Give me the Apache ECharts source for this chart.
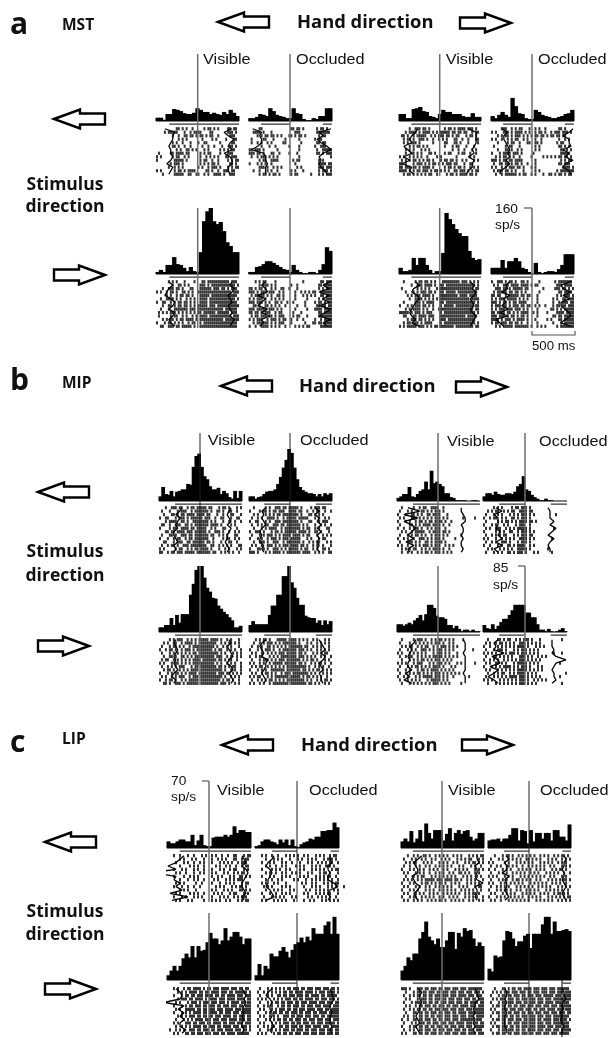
<!DOCTYPE html>
<html><head><meta charset="utf-8">
<style>html,body{margin:0;padding:0;background:#fff}#c{width:612px;height:1038px}</style>
<script src="https://cdn.jsdelivr.net/npm/echarts@6/dist/echarts.min.js"></script></head>
<body><div id="c"></div>
<script>
// ---- firing rates, sp/s per bin ----
const hist_a1=[8,8,3,17,17,29,27,24,19,17,17,20,31,27,22,22,17,20,17,15,22,17,27,20,12];
const hist_a2=[7,7,10,17,15,12,31,24,15,12,10,7,7,31,19,17,5,2,2,7,5,12,12,31,31];
const hist_a3=[17,17,7,7,29,31,34,24,22,12,10,7,17,27,22,22,17,17,17,12,10,10,19,10,10];
const hist_a4=[12,7,15,22,15,10,56,36,19,17,7,5,5,27,22,15,12,10,7,7,10,12,17,19,27];
const hist_a5=[5,10,5,22,22,41,24,22,15,7,17,7,5,53,128,152,160,128,121,126,104,77,68,53,53];
const hist_a6=[5,5,17,19,24,31,31,27,22,17,12,10,5,22,10,5,2,2,5,5,2,10,24,65,56];
const hist_a7=[15,7,7,10,39,22,39,39,22,10,2,7,7,51,148,133,121,109,99,92,92,56,39,34,36];
const hist_a8=[15,15,15,34,15,31,31,39,31,15,12,5,0,27,5,2,5,7,7,5,12,22,48,48,48];
const hist_b1=[6,18,9,8,13,6,12,13,15,15,22,21,44,58,61,44,32,28,19,15,15,17,9,13,10,5,3,13,4,13];
const hist_b2=[6,6,3,5,6,9,12,13,13,15,22,31,43,53,67,62,43,28,18,14,12,10,10,9,6,9,6,10,8,10];
const hist_b3=[4,6,9,9,18,6,5,9,13,15,25,15,39,23,25,22,19,10,10,5,4,1,1,1,1,0,0,1,1,0];
const hist_b4=[6,10,10,8,12,9,8,8,10,10,9,12,19,22,32,15,13,8,5,3,1,1,3,1,1,0,0,0,0,0];
const hist_b5=[6,6,9,9,18,9,22,12,23,23,23,48,62,80,85,85,70,57,52,44,43,34,30,26,23,19,15,6,6,8];
const hist_b6=[9,14,10,10,10,10,10,22,34,34,48,48,72,72,85,64,57,44,35,35,21,19,18,18,12,15,9,15,10,14];
const hist_b7=[10,10,8,10,12,10,15,18,22,15,23,35,35,31,21,19,19,17,9,9,5,8,4,1,3,3,1,3,1,1];
const hist_b8=[9,5,4,10,4,8,13,17,17,22,28,35,35,35,35,25,25,19,19,10,3,3,1,4,1,0,1,3,5,1];
const hist_c1=[7,5,5,7,9,9,7,7,14,3,8,14,3,2,2,11,12,12,12,14,12,14,23,16,19,19,17,17];
const hist_c2=[2,3,7,9,9,7,6,4,9,6,9,3,9,2,1,4,6,7,10,9,12,12,18,18,19,19,27,22];
const hist_c3=[7,10,7,18,6,10,19,7,26,16,10,19,19,19,8,15,21,8,16,19,15,18,19,12,8,10,16,16];
const hist_c4=[8,9,9,10,7,10,10,14,21,21,8,19,18,5,19,7,16,16,10,16,16,8,19,19,12,12,8,25];
const hist_c5=[5,10,15,10,15,23,28,24,36,24,36,31,32,40,50,44,44,38,42,55,42,46,51,51,46,38,44,44];
const hist_c6=[5,17,5,15,12,28,25,25,31,35,30,24,32,38,40,45,40,46,42,55,49,49,49,58,62,49,67,49];
const hist_c7=[10,15,24,21,28,28,44,51,62,46,42,38,44,35,35,42,51,51,33,50,46,55,52,53,44,36,40,36];
const hist_c8=[12,9,26,24,25,42,52,51,44,36,41,41,47,49,34,49,49,49,59,67,67,49,62,52,52,53,54,52];

// ---- spike rasters: one string per trial, # = spike in that time column ----
const raster_a1=["..........##.#.#..#.....#.##.#.#....##.##.","....#.#####...#..#.####....##.......###.#.","........#..#..##.##.#.##.#.##..#.....###..","...........#.#.#.......#....#.#....#...##.","........#.#..#...#...#..##......#.....##..","........##.#..#..#.....#..#..#...#...##.#.","..........#.#..##.#.#...#.#.....#.#.#.##..",".#.....##.####.##.....#.#.##....#...###...","#.#.....#.##..#.#.....#..#.#.#.#...##.###.","#........#####.#......#.##..#..#....#.#.##",".......#.###.#........#.#.#.##.#.....##.#.","......#..#.#.#.......#.#..#.###.#...#.#.##","#.#......#.##.#.####.....##.#..#..###.##..","...#.....#####..##..##..#.#..####.#..###.."];
const raster_a2=[".....##..............##.##.#......#.##.#..","..####.#...#...........###........#######.","....#.#.##.##.#.#...##.#.##.#......#.##...",".#.....##...#.....#......#.......#.##.....",".#..#.#..#.#.....##.......#.......##.##...","......#...#..#......#....#.......#..###...","##.###.#......#..........#........#..#####","###.##.#...##..#....#...#.........##.#.###",".#..#.###.#.#.#..........#...............#",".....#.##..####.......#.##.........#.#....","#...#.#.#..#...........#...........####.##",".....###.#..#.#.#.......#.#........###.###","..#..#...#.#..#......#.#...#.......#.###.#",".....#.##.#.##.#.....#.##......#...#.#.###"];
const raster_a3=[".....#..###.##.#.......#.##.#.####.###.#..","...#.####.#.####.#.#.#####.##.##.##..#.##.",".##.#..#.#####..#.#.###.##.#.##...#.##.#..","..#.##.#..###.#..#..#.#.#...##..#..#...##.","..#.#.###.#......#.....##...##.#...#....#.",".....#.#.##.#.#........#...#.##...#...#...","...#.#.#...#.#.#...........#..#..#...#.#..","...#..##.#.#...##.#....#.##...#.##..#..#..","#.#..#.#.#.#..#....#.#.......#......#.#...",".#.#.#.##.#.#.##.#...#.##.##.#..#.#...#.#.","##.#...#.###.#.#.##.#.#.###.##...#..##....","##.###.##.#.####.#.....#.##.#.##.#..#.#.#.","####.#.#.##.###.#.##.#.#.#..##.###.#.#.##.","..#.##.#.#.#.#.##..#....#.##.#.####.##.#.."];
const raster_a4=[".....###..#.#.##...#..#.#..#......##.#....","#.#...###.#.####.#.#..#.##.#..#.###.###.#.","...#.#.##.#.###.#.#.#.##.##.#.##.##.##....","#.#..#..#.#.##..#.#...#..#........#..#.#..","...#....#.##..#...##..##.#.......#.##.....",".#.....#.##...#.......#.#.........##.#.#..","...#...##.#..#.#......#.#..........##.#.#.","#...#.####.###.#.....#.............#####..","..#.#.##.#.#..#.....#.....#.#.#.#.##.##.#.","###.#.##.##.####......#............#.#.##.",".#..##.##.#.##.#..#...#...........##.###..","#.#..#.#.###.##.#...#.#.............####.#",".#.###.##.#.#...#.....#.#........#.#######","..#..#.######.#.##..#.#...#..##.#.##.#.##."];
const raster_a5=["......#.#.#...#....#...##.###########.###.","........#..##.#.#.....###.#.############.#","...#..###.##.#...##...######.###.##.#.###.","#.#..#.##.#..##.#.#..#################.###",".....#.#..#.##.##.#...#####.#############.","..#..####.#.#..#.#.#..####.#############.#","#..##..#.#.##.##.#.#..####.##############.","...#..##.#.##.##.#.#.#####.###.###########","..#...#..#######.###.#############.######.",".#.#.#.###.#.#.#.#.#.##.######.######.###.",".#.....#.##..#.#..#.#.####.###########.###","...#.#.##.#.##.####.#.############.#######","#...#.##.#.#.#..#.##..#.#################.","..##..###.##.#####.#..###################."];
const raster_a6=["...#.#.##....#.............#........##.###",".....#.###.#.#.......#..#..........##.####","##.#.##.#..#.#..##..#...#..........#.#.###","###.#.###.###..#.#.....#..#.#.#.##..######",".#.#####.#.#..##.#.....#...#.#.#.#..##.###","#.#.###.#..#.#.#.#.....#.....#.....#.#.###","###.###.#.#..##.#..#..#.....#....#.##.#.##","..##.#..##.#.#.#..#.....#...#.....##.##.##","###.#####.###.#.#......#.....#...####.####","##.##.#.###..#.##.....#...#........##.####",".#.##.###.##.#.###....#.##...#.....#######","#.#.###..#.###.#.##..#..#..#.....#..#.####","..#.######.#.#.###...#......#...##.##.####","#..#..####.#.#.#..#....#.#.#.##.....######"];
const raster_a7=["..#.....#.##.##.#.#...#########.###.#.#.#.","......#..###.####.#..##.###############.#.",".#.......#.#.#.#...#.#################.##.","...#...#.#.###.##.#..##.#####.##########..","....#.#.###.####.#...#########.####.####..",".....#..####.#.#.#.#.###############.####.","..#.....###.#.####...##.###############.#.","#...#.#.###.##.#.#...#.#####.#########.##.","...#.#.####.#.#..#..##################.##.","#####.#.###.#.###....#.################.#.","..##...##.####.###...#############.#####..","....#.###.##.#.#.#...###.##############...","..#.##.###.#.####....#.################.#.","#.#.#####.###.#.#.##.#######.#########.##."];
const raster_a8=["#..###.#.##.#..##.#.....#.......#.#######.",".#.#..###.####.####.#.##.........###.####.","..###.##.#.#####.##.......#.....###.##.#.#",".#.#####.##.##.#.#......#.........##.####.","##.##..#.#####.##.##...#.........#.#.###.#","#.#.###.#####.#.#.#....#.......#.#..##.###","###.#.##.#.##.####.....#.......#..#.###.##","#.###.##.#.###.##.##..#.#..#...#.##.##.###","#.#.###.###.###.#.#....#......##.#.#.#####","##.####.##.#.#.####..#.#....#....####.####","###.###.#.##.#.##.#....#.......##.##.#####","####.#.###.#.####.#...#.....#.#...##.#####","#.##.###.##.##.#..#....#.......#...#.#####","..#.#.#####.#######.#..#.#.#.....#.#######"];
const raster_b1=["...#..###.##..#.##.#####.##...#.##.#...#.#",".#...#...#.###..#.#######.#..##.#..##..#..","..#...##.#.##.####.####.##...#..#...##...#","#..##...#.###.#.######.###..#..##...#..##.","...#.####..##.#..########.#.#...#..#..#..#",".##..#..###..##.#.#######.####.#....#.#...","#....#.##..####.##.#####..#.#...##.....#..","...##.##.####.###.######.#..###.#..#..#.#.",".#...##.#..###.##.#######.##..#.#.#...##..","#...#..#.##..#.##.#######..#....#.##..#.#.","..##...#.###..##.######.##.#...#...##..#..",".#..#.##.#..###.########..##..#.#.#.#...##","#.#.....#.##..#.#.##.####.#...#..#.#...#.#","##..#.##.###.#####.#######.##..#.#.#.#..#."];
const raster_b2=["..#.....#.#..###.##.#####.#....#.###.##...","#....#.##.#.##.###..####.##..#..#.##..#..#","..#.#...#.#.#.##.########.#...##.#.#.#....",".#..#.#..####.#..#.#####.#####...#.#..#.#.","#..##...#.#..###.########.#...##...#.###..",".#..#.#.##..###.##.#######.#.#...#..#.#..#","..#...#.#.####..#.########.#.##..#.#...##.","#..###.#...#.##.#.######.####.#..##.#...#.",".#...#.#.###.#.#.####.####.#.##...#..#.#.#","#...#.#..#.###.#.###.#####...#.#...#.##...","..#..###.#..###..#.#######.#..#.#.##...#.#",".#.#..#..###.#.#.###.####.##.#..#.#..#...#","#...##.#.#..###.#.#.#####.#.##..#.#..##.#.","###.#...#.#.####.#.#######.####..#.#.#..##"];
const raster_b3=["..#.....#..#.##..####..#..................",".#...#.#..#.##.#.#.###.#..................","#...#..##.#.#..##.####...#................",".#.#...###.#.#.#.#.###.#.#.......#.....#..","#...#.#..#.##.#.##.####.#..#..............",".#....##.#.#.####.####.#..#...............","#..#..#.###.#..#.#.###..#.................","..#.#..#.#####..#.####.##.#...............",".#...#.#.##.#.#..#.###.#.#......#.........","#..#.#..#..###.#.#.###.#.....#............",".#...###.#.#..##.#.####.#.................","#.#..#...#.#.###.#.###..#.#.#.............","..#.#.#.##..#.#.#.####.#..#...............","..#..#.#..#.#.##.#.###.#.#.#.............."];
const raster_b4=[".....#.#.#....#.##.###.#..................","..#.#.##..#.#.##..####.##.................",".#...#.#.#...#.#.#.###.#.#..........#.....","#..#.##..#.#..##.#.###.#..................",".#.....#.#.##.#.#.####.##.#...............","#...#.#...#.#...#.###..#..................",".#.#..###..#.#.#.#####.#...........#......","#.....#.#.#..##..#.###.#.#................",".#..#.#.#.##...#.#.###.##.................","#.#...#..#.#.#.#..####.#.#........#.......",".#..#.#..###.#...#.###.#..................","#..#...#.#..##.#.####..#.#................","..#.#...#.#.#.#..#####.#........#.........",".#...#.#.#..##.#.###.#...#.#......#......."];
const raster_b5=[".....#.#.###..#.#.#.#####.####.#..#.#...#.","..#.#..##..#.####.#.#########..#.#.##.#.#.",".#...#.##.#.#..#.###########.#..#.#.#...#.","#..#.##.#..#.###.#.########.#.##..#.#.#..#",".#...#.#.#.#.#.#.##.##########.#.#...#.#.#","..#..##.#..##.#.#.##########.###..#.#..#.#",".#.##..#.#.#.#.#.####.#######.##.#.##..#..","#.#...#.##.#.#.#.###########.#.#..#.#.#..#",".#..#.#.#.###...#.##.########.##.#.#.##..#","..#.##.#..#.#.#.####.###########.#..#.#..#","#...#.#.##.#.#.####.#########.###.##.#.#.#",".#.#..#.#.###..#.###.###########.#..#.#.#.","#..#.##.#..#.#.#####.##########.#.##.#..#.","..##.#..###.#.######.#########.###.#..#.#."];
const raster_b6=["...#.#.##.#...#####.####.#.#.#..#.#...#.#.","..#..#.#.###.#.#.#######.#...#.#..#.#.#.#.",".#..#.#..##.#.#.#.#.#######.##..#.#.#...#.","#...#.#.###.#..#.#######.###.#.#..#.#.#.#.",".#.#..#..#.#.#.###.#####.##.#...#.#.#.##..","#..#.##...#.#.#.########.###.#.#.#..#.#..#",".#...#.###.#.#.###.#######.#.#.##.#...#.#.","#.#..#.#..#.#####.######.##.#..#.#.##.#..#",".#.#.##..#.#.#.#.#.##########.#..#.#.#..#.","#...#.#.#..#######.#######.##.#.#.##.#.#.#",".#.#..#.##.#.#..#.###.########.#.#...#.#.#","#.#.##...#.#.#######.#####.#.##.#.#.#..#..",".#..#.#.#.##.#.#.#.#########.#.#..#.#.##.#","#.#..#.#..#.########.########.##.#.#..#.#."];
const raster_b7=["..#.....#.###.#..#.#.##.#.#.#....#........",".#....#..#.#.#.#.#.###.#..#.#..............","..#.#.##..#.#.##..#.#.###.#.#.#...........",".#...#.#.#..###.#.#.###.#.#.#.........#...","#.#...#.#.#.#.#...#.###.#.#...#...........",".#..#.##..#.#.#.#.#####.#.#.#.#...........","..#...#.#.#.##.#.#.###.#.#.#..............","#.#.#...#.###...#.#.###.#.#...#.#......#..",".#...#.#.##.#.#.#.####.#...#.#............","#...#.#...#.##.#.####.#.#.#.#.............",".#..#.#.#.##.#.#.#.###.#.#.#.#.#..........","#..#.#...#.#.#####.###.#.#..#.......#.....",".#...#.#.#.#...#.#####.#.#................","..#...#.#.#.#.#.#.###.#.#.#.....#........."];
const raster_b8=["..#....##.#.##..#.#.###.#...#..........#..",".#.#..#.##.#.#.#..###.#.#.#.#.............","#..#...#.#.#.#.#.####.#...#.#.#...........",".#...#.###.#...#.#.###.#.#.#..............","#.#.#.#..#.#.###.#.###.#.#.#.......#...#..",".#...##.#.#.#.#...###.#.#..#.#.#..........","#..#.#.#..#.#.#.#.###.#.#.#.#.............",".#.#..##.#.#...#.#####.#.#.#..........#...","#...#.#.#.####.#.#.###.#...#.#............",".#.#...#.#.#.#.#.#####.#.#.#.#............","..#..#.#.##..#.#.####.#.#.#..............#",".#...#.#.#.#.####.###.#.#.#.#.........#...","#.#.#...#.#.#.#.#.###.#..#.#.#.#..........","..#...#.#.#.#.#.#.###.#.#.#............#.."];
const raster_c1=["...#..#...#..#...#.#..#.#..#..#..##...#.##","......#.#...#.#...#...#..#.#.#...##..#.##.","....#...#.#..#..#.#...#...#.#.#.#..#.###..","......#....#.#.#..#.....#.#..#.#..#..#.##.","...#...#.#...#.#..#...#...#.#..#.##...#.#.","....#.#..#...#..#.#...#.#...#.#..#.#.##...","...#....#..#.#.#......#..#.#...#.#..##.#.#","......#...#..#.#..#....#.#...#.#.#.###....","....#.#.#.....#..#....#...#..#.#.#...#.##.","...#...#..#..#..#.......#.#.#...#.#.##.#..","......#.#.#...#.......#.#...#.#.#...##.#.#","....#.#....#.#.#..#....#.#.#...#.##...#.#.","...#...#.#...#.#.#....#...#.#.#..#.#.###..","....#.#...#.#.....#...#.#.#..#.#...#.#.##."];
const raster_c2=["...#.#..#..#...#.#.#.#..#.#...#.#.#..#.##.",".....#...#.#.#...#...#.#..#.#.#...#.###.#.","...#...#.#...#.#..#...#...#.#..#.#.#.##..#",".....#.#..#..#.#....#.#.#...#.#.#..###.#..","...#....#.#.#..#.#....#.#...#.#.#.#...#.##",".....#.#..#..#.#..#.#.#...#.#...#.##.#...#","...#...#.#...#.#.#....#.#.#...#.#.#.##..#.",".....#..#..#.#.....#.#...#..#.#.#.#.#.#..#","...#.#...#.#...#.......#.#..#.#...#.#.#.##","....#.#.#....#.#.#......#...#.#.#...#.#.#...#",".....#...#.#.#...#.#.....#.#..#.#.#.#..#.#","...#...#..#..#.#.#......#.#...#.#.#.##...#","....#...#.#.#.#...#.#.....#.#..#.#.#.#..#.","...#.#...#.#.#.#...#....#..#.#...#.#.#.#.#"];
const raster_c3=["...#..#.#..##.#..#.#.#.#..#.#.#...#.#.#.##",".#...#.#..#.#..#.#..#.#.#...#.#.#.##...#.#","..#.#.##...#.#.#...#.#.#..#.#...#.#.##.#.#",".#..#..#.#..#.#..#.#.#.#.#...#.#...#.#..#.","#...#.#..#.#..#.#.#..#.#...#.#.#.#...#.#.#",".#.#...#.#.#..#..#.#.#..#.#..##.#.#..#.#..","..#...#.#.##...#.#.#.#.#.#.#...#.#.#..#.#.",".#.#.#..#.#.#####.###.####.##.#..#.#.#...#","#...#.#...#.##.#.#.##.#..#.#.#...#.#.#.#..",".#.#...#.#..#.#..#.#.#.#.#...#.#.#...#.##.","#...#.#.#...#.#.#..#.#.#.#.#..#.#.#.#...#.",".#.#...#.#.#..#.#.#..#.#.#.#.#..#.#.##.#..","#...#.##..#.#.#.#..#.#..#.#.#...#.#.#.#..#",".#.#..#.#.#..#.#.#.##.#..#.#.#.#..#.#..#.#"];
const raster_c4=["...#...#.##.#..#.#.#.#.#..#.#.#..#.#.##.#.",".#...#.#..#.#.#.#..##.#.#.#...#.#.#..#.#.#","#.#.....#.#...#.#.#.#.#...#.#.#.#..#.#.#..",".#..#.#..##.#.#..#..#.#.#.#.#..#.#...#.#.#","#..#...#.#.#...#.#.#.#..#.#.#...#.#.##.#..",".#...#.#.#..#.#.#.#..#.#.#...#.#.#.#..#..#","#.#.#...#.#.#...#.#.#.#.#.#.#..#.#...#.#..",".#...#.#.#..#.##.#.#.#..#.#...#.#.#.#.##.#","#.#...#.#..#.#.#.#...#.#.#.#.#..#.#.#..#..",".#..#.#.#.#...#.#.#.#.#..#.#.#.#...#.#.#.#","#...#.#.##.#..#.#..#.#.#.#...#.#.#.#.#..#.",".#.#...#.#.#.#...#.#.#.#..#.#.#..#.##.#.#.","#...#.#.#..#.#.#.#..#.#.#.#...#.#.#.#.#.##",".#.#..#...#.#.#.#.#.#...#.#.#.#.#..#.#.#.#"];
const raster_c5=["...#.#..#.##.####.#.##.###.####.###.##.##.",".....#.#.#.####.##.##.####.###.##.######.#","...#...#.##.##.###.####.##.##.####.###.###",".....#.###.##.####.#.####.###.####.####.##","....#.#...#.###.#.###.###.###.#.####.##.##","...#...#.#.##.###.##.###.##.###.###.##.###","....#.#..#####.##.##.###.###.####.###.####","...#...#.#.#.####.##.####.##.###.###.#####",".....#.#.#.###.##.##.##.###.####.##.###.##","....#...#.#.#.####.###.###.###.####.###.##","...#.#...###.##.###.##.####.##.###.###.###","....#..#.#.#.####.##.###.##.####.###.###.#",".#..#.#.#..###.##.###.##.###.####.###.##.#","...#.#...##.##.###.###.###.##.####.######."];
const raster_c6=["..#...#.#.#.#.#.##.###.##.###.###.###.##.#",".#..#.#.#.#.#.##.##.####.####.#.###.####.#","..#...#.#..##.##.###.###.##.####.##.#####.",".#.#.#...#.#.#.###.##.##.####.##.###.###.#","..#...#.#.##.##.###.##.###.####.###.###.##",".#..#.#.#..#.##.##.###.##.###.###.####.###","..#.#...#.#.###.##.##.###.####.###.##.####",".#...#.#.##.##.##.###.##.###.##.####.#####","..#.#..#.#.#..###.##.###.###.###.##.######",".#...#.#.#.##.##.##.###.##.###.###.###.###","..#.#...#.#.#.###.##.##.###.##.###.#####.#",".#..#.#.##..##.##.###.##.###.####.###.####","..#...#.#.#.#.###.##.###.##.###.###.###.##",".#.#.#...#.##.##.##.###.###.###.###.###.##"];
const raster_c7=["###.#...###.##.###.##.###.###.###.#######.","..#...#.##.##.###.##.###.###.###.###.###.#",".#..#.#.##.##.##.###.###.###.####.###.###.","..#.#...#.###.##.###.##.###.###.###.##.###",".#...#.###.##.##.##.###.###.###.##.####.##","..#.#..#.##.###.##.###.##.###.####.###.###",".#..#.#.##.##.##.###.###.###.###.###.#####","..#...##.##.##.###.##.###.##.####.########",".#.#..#..##.##.##.###.###.###.###.###.####","#..#..##.##.###.##.##.###.###.#######.###.",".#...#.#.###.##.###.###.###.####.###.##.##","#...#.##.##.##.##.###.##.###.###.###.#####",".#..#.#..##.###.##.###.###.###.##.###.###.","#.#...##.##.##.###.##.###.###.###.####.###"];
const raster_c8=["...#...##.#.##.##.####.###.###.###.######.","..#.#.#.###.###.###.##.###.###.###.###.###",".#...#.##.##.###.##.###.###.#####.###.####","..#.#.###.###.##.###.###.###.###.#########",".#...#.##.###.###.##.###.###.####.###.###.","..#.##.##.##.##.###.###.###.###.###.######",".#.#...###.###.###.###.##.###.####.###.###","..#.##.##.##.###.##.###.###.###.###.###.##",".#...#.###.##.##.###.###.###.###.########.","..#.##.##.###.###.##.###.##.####.###.###.#",".#.#...##.##.###.###.###.###.###.########.","..#.##.###.##.##.###.###.####.###.###.###.",".#...#.##.###.##.##.####.###.###.###.#####","..#.##.##.##.###.###.##.###.###.###.#####."];

// ---- reaction-time traces, one time column per trial ----
const lead_a1=[4,9,8,8,7,6,7,7,8,7,5,8,7,6], lag_a1=[38,34,36,39,37,36,38,34,37,38,38,36,36,37];
const lead_a2=[1.5,6,5,6,6,4,1,7,8,8,9,8,8,8], lag_a2=[41,35,37,34,36,39,41,37,35,36,35,36,38,39];
const lead_a3=[9,8,6,5,6,2,4,6,2,5,1,6,5,7], lag_a3=[35,39,39,39,39,38,37,38,35,38,37,37,35,34];
const lead_a4=[5,8,6,6,7,8,9,8,9,7,9,7,4.5,4], lag_a4=[41,39,36,39,39,40,36,39,37,41,37,36,39,40];
const lead_a5=[6,8,6,5,4,7,9,8,6,9,8,6,7,9], lag_a5=[38,37,39,38,36,37,38,36,37,38,37,39,38,37];
const lead_a6=[8,6,8,9,4,8,6,4,9,6,10,6,7,5], lag_a6=[41,37,40,35,40,37,40,35,41,38,35,41,37,39];
const lead_a7=[8,10,7,6,9,10,8,7,6,5,6,8,6,10], lag_a7=[36,38,37,39,38,36,37,38,36,37,39,38,37,36];
const lead_a8=[9,7,8,5,9,6,7,5,8,4,8,2,4,6], lag_a8=[40,35,36,40,36,39,35,35,37,39,40,37,35,40];
const lead_b1=[11,10,8,10,9,8,9,7,7,8,9,7,8,7], lag_b1=[36,35,34,35,36,34,36,35,34,34,33,34,35,34];
const lead_b2=[8,6,7,6,7,8,6,5,6,5,5,7,6,7], lag_b2=[33,35,33,35,34,36,34,36,34,35,34,35,34,35];
const lead_b3=[5,11,3,10,3,7,9,7,5,8,4,8,5,6], lag_b3=[32,32,33,34,34,32,33,33,32,33,32,32,33,32];
const lead_b4=[6,9,5,7,7,7,6,8,7,9,6,9,5,7], lag_b4=[32,33,33,33,35,33,36,34,32,35,33,32,33,33];
const lead_b5=[8,7,8,9,8,7,8,7,8,9,7,6,8,7], lag_b5=[35,36,34,35,36,37,35,34,36,37,35,36,37,36];
const lead_b6=[8,6,5,6,7,6,9,8,8,7,6,7,8,7], lag_b6=[35,36,37,38,36,38,37,35,36,37,35,36,36,37];
const lead_b7=[9,8,6,7,6,5,6,5,5,7,4,6,3,7], lag_b7=[33,34,34,34,33,34,34,34,34,34,33,34,34,34];
const lead_b8=[7,5,6,5,10,4,7,8,3,7,5,2,5,7], lag_b8=[34,34,34,35,34,36,41,36,35,34,35,35,36,34];
const lead_c1=[8,6,4,0,4,-9,4,3,6,4,7,1,10,2], lag_c1=[37,38,39,37,39,40,39,38,37,37,38,39,37,38];
const lead_c2=[9,8,6,5,7,8,7,6,6,5,7,8,9,5], lag_c2=[37,37,38,36,36,37,36,36,39,41,37,36,37,36];
const lead_c3=[10,8,6,7,8,8,5,6,7,9,8,6,7,8], lag_c3=[38,38,39,37,38,38,37,38,41,37,38,38,37,38];
const lead_c4=[9,10,8,9,9,7,10,8,9,9,8,9,10,8], lag_c4=[38,39,38,38,37,38,38,37,38,39,38,37,38,39];
const lead_c5=[4,6,7,6,-2,8,5,8,6,8,6,6,9,7], lag_c5=[37,38,39,38,39,38,37,38,37,38,37,37,38,37];
const lead_c6=[8,6,5,7,8,7,7,8,8,7,8,9,7,8], lag_c6=[37,38,38,39,38,37,37,38,37,37,37,38,37,38];
const lead_c7=[8,10,9,9,10,9,9,8,7,8,9,7,8,9], lag_c7=[37,38,38,39,37,37,36,37,36,37,36,37,36,37];
const lead_c8=[8,9,9,8,9,8,8,9,8,8,8,8,9,9], lag_c8=[37,38,38,39,37,37,38,36,37,36,37,38,37,37];

// ---- movement epochs under each histogram, ms from event ----
const span_a_vis=[[-330,480]], span_a_occ=[[-336,0],[383,487]];
const span_b_vis=[[-290,487]], span_b_occ=[[-300,0],[300,487]];
const span_c_vis=[[-340,487]], span_c_occ=[[-290,0],[390,487]];
const scale_a=160, scale_b=85, scale_c=70; // sp/s of the vertical scale bars
const scaleLabels=["160","85","70"], unitLabel="sp/s", timeLabel="500 ms";

// ---- layout ----
const PX_PER_MS=43/500, SCALE_PX=66, C=42;
const cols={a:[[156,239,197.7],[248.7,332,290],[399,481,439.7],[491,574,532]],
            b:[[159,242,200],[249,332,290],[397,480,438],[483,567,525]],
            c:[[167,251,209],[255,339,297],[401,484,442],[488,571,529]]};
const rows={a:[[54,121,127,176],[208,274,280,328]],
            b:[[433,501,506,554],[566,632,638,685]],
            c:[[781,848,854,902],[913,980,987,1035]]};
const scales={a:scale_a,b:scale_b,c:scale_c};
const spans={a:[span_a_vis,span_a_occ],b:[span_b_vis,span_b_occ],c:[span_c_vis,span_c_occ]};
const tables={
 hist:[hist_a1,hist_a2,hist_a3,hist_a4,hist_a5,hist_a6,hist_a7,hist_a8,hist_b1,hist_b2,hist_b3,hist_b4,hist_b5,hist_b6,hist_b7,hist_b8,hist_c1,hist_c2,hist_c3,hist_c4,hist_c5,hist_c6,hist_c7,hist_c8],
 raster:[raster_a1,raster_a2,raster_a3,raster_a4,raster_a5,raster_a6,raster_a7,raster_a8,raster_b1,raster_b2,raster_b3,raster_b4,raster_b5,raster_b6,raster_b7,raster_b8,raster_c1,raster_c2,raster_c3,raster_c4,raster_c5,raster_c6,raster_c7,raster_c8],
 lead:[lead_a1,lead_a2,lead_a3,lead_a4,lead_a5,lead_a6,lead_a7,lead_a8,lead_b1,lead_b2,lead_b3,lead_b4,lead_b5,lead_b6,lead_b7,lead_b8,lead_c1,lead_c2,lead_c3,lead_c4,lead_c5,lead_c6,lead_c7,lead_c8],
 lag:[lag_a1,lag_a2,lag_a3,lag_a4,lag_a5,lag_a6,lag_a7,lag_a8,lag_b1,lag_b2,lag_b3,lag_b4,lag_b5,lag_b6,lag_b7,lag_b8,lag_c1,lag_c2,lag_c3,lag_c4,lag_c5,lag_c6,lag_c7,lag_c8]};

const grid=[],xAxis=[],yAxis=[],series=[];
let gi=0;
for(const reg of ['a','b','c']){
  rows[reg].forEach((rw,ri)=>{
    cols[reg].forEach((cl,ci)=>{
      const [l,r,ev]=cl, [top,base,rTop,rBot]=rw;
      const ppu=SCALE_PX/scales[reg];
      const xmin=-(ev-l)/PX_PER_MS, xmax=(r-ev)/PX_PER_MS;
      const ymax=(base-top)/ppu, ymin=-(rBot-base)/ppu;
      grid.push({left:l,top:top,width:r-l,height:rBot-top,show:false});
      xAxis.push({type:'value',gridIndex:gi,min:xmin,max:xmax,show:false,scale:true});
      yAxis.push({type:'value',gridIndex:gi,min:ymin,max:ymax,show:false,scale:true});
      const common={xAxisIndex:gi,yAxisIndex:gi,silent:true,animation:false};
      const hist=tables.hist[gi], n=hist.length, binMs=(xmax-xmin)/n, binPx=(r-l)/n;
      series.push({...common,type:'bar',barWidth:binPx+1,itemStyle:{color:'#000'},
        data:hist.map((v,i)=>[xmin+(i+.5)*binMs,v])});
      series.push({...common,type:'line',showSymbol:false,lineStyle:{color:'#000',width:1},data:[[xmin,0],[xmax,0]]});
      // raster
      const rh=(rBot-rTop)/14, colMs=(xmax-xmin)/C, rowY=t=>-(rTop+(t+.5)*rh-base)/ppu;
      const pts=[];
      tables.raster[gi].forEach((s,t)=>{[...s].forEach((ch,c)=>{if(ch==='#')pts.push([xmin+(c+.5)*colMs,rowY(t)]);});});
      series.push({...common,type:'scatter',clip:false,symbol:'rect',symbolSize:[2,3.2],itemStyle:{color:'#000'},data:pts});
      // traces
      for(const tr of ['lead','lag'])
        series.push({...common,type:'line',clip:false,showSymbol:false,z:4,lineStyle:{color:'#000',width:1.3},
          data:tables[tr][gi].map((c,t)=>[xmin+(c+.5)*colMs,rowY(t)])});
      // event line
      const evDark=(reg==='b'&&ci<2&&ri===0)||(reg==='c'&&ci%2===1);
      series.push({...common,type:'line',showSymbol:false,z:5,lineStyle:{color:evDark?'#222':'#6e6e6e',width:evDark?1:1.5},
        data:[[0,ymax],[0,ymin]]});
      // epoch underlines
      const uy=-3.2/ppu;
      spans[reg][ci%2].forEach(sp=>series.push({...common,type:'line',showSymbol:false,lineStyle:{color:'#333',width:1.2},
        data:[[sp[0],uy],[sp[1],uy]]}));
      gi++;
    });
  });
}

// ---- text, arrows, scale bars ----
const BOLD='"Open Sans"', THIN='"Liberation Sans"';
const g=[];
function txt(s,x,y,size,weight,fam,sx,color){g.push({type:'text',x,y,scaleX:sx||1,silent:true,style:{text:s,x:0,y:0,fontSize:size,fontWeight:weight,fontFamily:fam,fill:color||'#111',textVerticalAlign:'middle',textAlign:'left'}});}
function line(pts,color,w){g.push({type:'polyline',silent:true,shape:{points:pts},style:{stroke:color||'#555',lineWidth:w||1.2,fill:null}});}
function arrow(x,y,dir){ // x = left edge of 51px-long arrow, dir -1 points left
  const P=[[0,0],[26,-9.5],[26,-5.5],[51,-5.5],[51,5.5],[26,5.5],[26,9.5]];
  g.push({type:'polygon',silent:true,shape:{points:P.map(p=>[dir<0?x+p[0]:x+51-p[0],y+p[1]])},style:{fill:'#fff',stroke:'#000',lineWidth:2.4,lineJoin:'miter'}});
}
[['a','MST',25,26,22,460,23,54,119,275,185,207,65],['b','MIP',381,384,386,456,387,38,492,646,552,576,65],['c','LIP',743,740,745,462,745,45,842,989,912,935,65]].forEach(
 ([ltr,name,ly,ny,ty,rx,ry,mx,my1,my2,s1,s2,sc],i)=>{
  txt(ltr,10,ly,30,700,BOLD);
  txt(name,62,ny,15.5,700,BOLD);
  txt('Hand direction',[297,299,301][i],ty+1.5,17,700,BOLD,1.08);
  arrow([218,221,222][i],ty,-1); arrow(rx,ry,1);
  arrow(mx,my1,-1); arrow(mx,my2,1);
  g.push({type:'text',x:sc,y:s1,silent:true,style:{text:'Stimulus',fontSize:17.5,fontWeight:700,fontFamily:BOLD,fill:'#111',textAlign:'center',textVerticalAlign:'middle'}});
  g.push({type:'text',x:sc,y:s2,silent:true,style:{text:'direction',fontSize:17.5,fontWeight:700,fontFamily:BOLD,fill:'#111',textAlign:'center',textVerticalAlign:'middle'}});
});
const labY={a:[60,60],b:[441,442],c:[791,791]};
const labX={a:[203,296,445.7,538],b:[207.7,300,447,539],c:[217,309,448,540]};
for(const reg of ['a','b','c'])labX[reg].forEach((x,i)=>txt(i%2?'Occluded':'Visible',x,labY[reg][i<2?0:1],14.5,400,THIN,1.12,'#111'));
// scale bars
txt(scaleLabels[0],495,210,12.5,400,THIN,1.1); txt(unitLabel,495,226,12.5,400,THIN,1.1); line([[524,208],[532,208]]);
txt(scaleLabels[1],493,569,12.5,400,THIN,1.1); txt(unitLabel,493,586,12.5,400,THIN,1.1); line([[518,566],[525,566]]);
txt(scaleLabels[2],171,782,12.5,400,THIN,1.1); txt(unitLabel,171,798,12.5,400,THIN,1.1); line([[202,781],[209,781]]);
line([[532,331],[532,335],[575,335],[575,331]]);
txt(timeLabel,532,347,12,400,THIN,1.1);
line([[562,980],[562,1037]],'#000',1);

const chart=echarts.init(document.getElementById('c'),null,{renderer:'canvas'});
chart.setOption({animation:false,backgroundColor:'#fff',grid,xAxis,yAxis,series,graphic:{elements:g}});
</script></body></html>
